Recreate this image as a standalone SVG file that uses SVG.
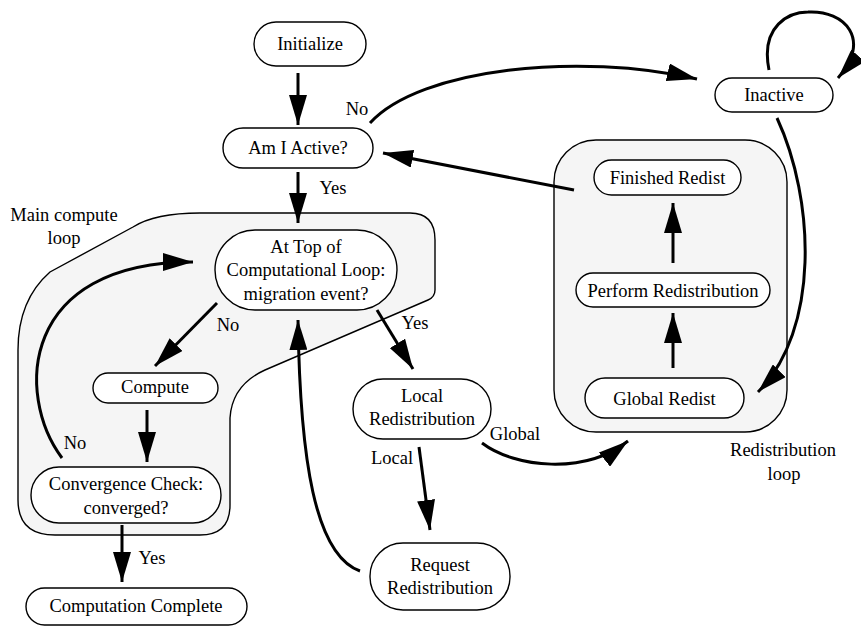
<svg xmlns="http://www.w3.org/2000/svg" width="861" height="627" viewBox="0 0 861 627">
<style>
.node rect{fill:#fff;stroke:#000;stroke-width:1.4}
.grp{fill:#f5f5f5;stroke:#000;stroke-width:1.4}
text{font-family:'Liberation Serif','Times New Roman',serif;font-size:18.5px;fill:#000;text-anchor:middle}
.edge{fill:none;stroke:#000;stroke-width:3;marker-end:url(#ah)}
</style>
<defs>
<marker id="ah" markerUnits="userSpaceOnUse" viewBox="0 0 30 18" markerWidth="30" markerHeight="18" refX="30" refY="9" orient="auto">
<path d="M0,0 L30,9 L0,18 z" fill="#000"/>
</marker>
</defs>
<rect width="861" height="627" fill="#fff"/>

<g id="main-compute-loop">
<path class="grp" d="M200,213 L410,213 Q435,213 435,240 L435,290 Q435,297 428,300 L265,370 Q232,385 230,418 L230,505 Q230,535 200,535 L55,535 Q18,535 18,500 L18,350 Q18,300 50,272 L133,227 Q155,213 200,213 Z"/>
<text x="64" y="221">Main compute</text>
<text x="64" y="244">loop</text>
</g>

<g id="redistribution-loop">
<rect class="grp" x="554" y="140" width="233" height="292" rx="42"/>
<text x="783" y="456">Redistribution</text>
<text x="784" y="480">loop</text>
</g>

<g id="initialize" class="node">
<rect x="254" y="22" width="112" height="44" rx="22"/>
<text x="310" y="50">Initialize</text>
</g>
<g id="am-i-active" class="node">
<rect x="223" y="128" width="150" height="40" rx="20"/>
<text x="298" y="154">Am I Active?</text>
</g>
<g id="inactive" class="node">
<rect x="715" y="78" width="118" height="34" rx="17"/>
<text x="774" y="101">Inactive</text>
</g>
<g id="at-top" class="node">
<rect x="215" y="230" width="182" height="80" rx="40"/>
<text x="306" y="253">At Top of</text>
<text x="306" y="276">Computational Loop:</text>
<text x="306" y="300">migration event?</text>
</g>
<g id="compute" class="node">
<rect x="93" y="373" width="125" height="30" rx="15"/>
<text x="155" y="393">Compute</text>
</g>
<g id="convergence-check" class="node">
<rect x="31" y="467" width="190" height="56" rx="28"/>
<text x="126" y="490">Convergence Check:</text>
<text x="126" y="514">converged?</text>
</g>
<g id="computation-complete" class="node">
<rect x="26" y="588" width="221" height="37" rx="18.5"/>
<text x="136" y="612">Computation Complete</text>
</g>
<g id="local-redistribution" class="node">
<rect x="353" y="379" width="138" height="60" rx="30"/>
<text x="422" y="402">Local</text>
<text x="422" y="425">Redistribution</text>
</g>
<g id="request-redistribution" class="node">
<rect x="370" y="543" width="140" height="67" rx="33"/>
<text x="440" y="571">Request</text>
<text x="440" y="594">Redistribution</text>
</g>
<g id="finished-redist" class="node">
<rect x="594" y="160" width="147" height="35" rx="17.5"/>
<text x="667.5" y="184">Finished Redist</text>
</g>
<g id="perform-redistribution" class="node">
<rect x="576" y="273" width="194" height="34" rx="17"/>
<text x="673" y="297">Perform Redistribution</text>
</g>
<g id="global-redist" class="node">
<rect x="585" y="378" width="159" height="40" rx="20"/>
<text x="664.5" y="405">Global Redist</text>
</g>

<g id="connectors">
<path class="edge" d="M298,73 L298,125"/>
<path class="edge" d="M298,172 L298,223"/>
<text x="333" y="194">Yes</text>
<path class="edge" d="M370,123 C420,68 580,52 697,79"/>
<text x="357" y="115">No</text>
<path class="edge" d="M574,190 L383,153"/>
<path class="edge" d="M769,70 C760,25 790,12 808,12 C845,10 872,40 838,78"/>
<path class="edge" d="M777,118 C815,200 820,330 758,392"/>
<path class="edge" d="M673,263 L673,203"/>
<path class="edge" d="M673,368 L673,313"/>
<path class="edge" d="M217,303 L155,366"/>
<text x="228" y="331">No</text>
<path class="edge" d="M377,310 L413,369"/>
<text x="415" y="329">Yes</text>
<path class="edge" d="M147,410 L147,462"/>
<path class="edge" d="M62,458 C15,395 20,262 193,262"/>
<text x="75" y="449">No</text>
<path class="edge" d="M122,525 L122,582"/>
<text x="152" y="564">Yes</text>
<path class="edge" d="M419,447 L430,530"/>
<text x="392" y="464">Local</text>
<path class="edge" d="M482,443 C515,468 585,475 628,441"/>
<text x="515" y="440">Global</text>
<path class="edge" d="M360,571 C315,555 300,460 298,320"/>
</g>
</svg>
